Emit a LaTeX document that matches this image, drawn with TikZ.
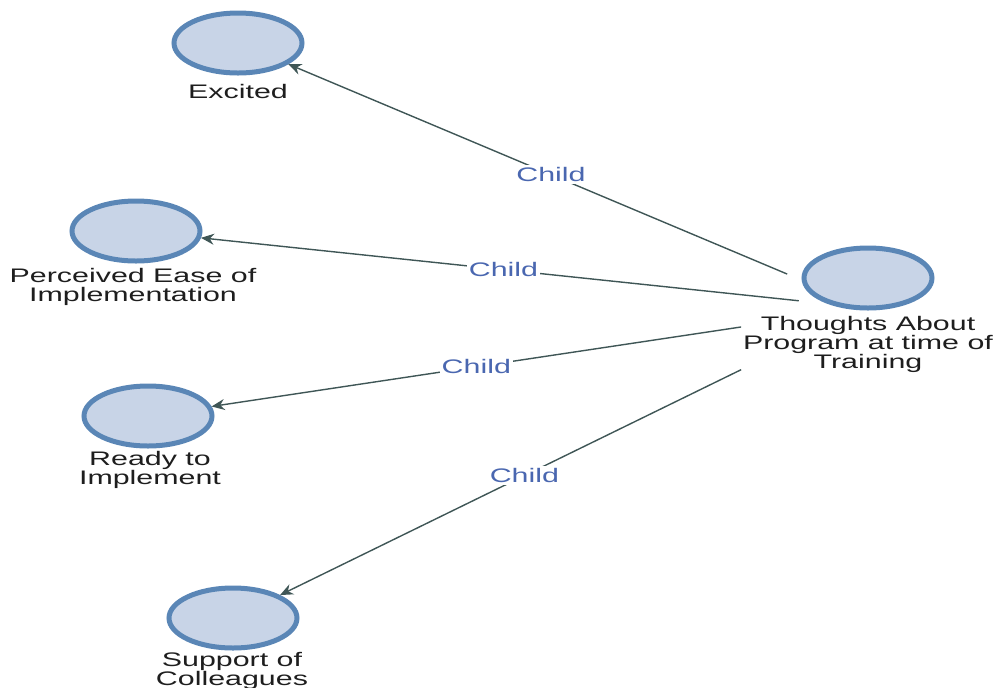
\documentclass[tikz,border=0pt]{standalone}
\usepackage{fontspec}
\setmainfont[FakeStretch=1.55]{Liberation Sans}
\usetikzlibrary{arrows.meta}
\usetikzlibrary{shapes.geometric}
\definecolor{dotfill}{HTML}{C8D4E7}
\definecolor{dotring}{HTML}{5A86B6}
\definecolor{linkgrey}{HTML}{3F5656}
\definecolor{childblue}{HTML}{4A67B0}
\definecolor{labelgrey}{HTML}{1E1E1E}

\begin{document}
\begin{tikzpicture}[x=0.5pt,y=-0.5pt,
		nodedot/.style={ellipse, draw=dotring, line width=2.5pt, fill=dotfill, minimum width=64pt, minimum height=30pt, inner sep=0pt},
		nodetext/.style={align=center, text=labelgrey, font=\fontsize{9.8}{9.5}\selectfont},
		childlink/.style={-{Stealth[length=6.5pt,width=5.5pt]}, color=linkgrey, line width=0.7pt},
		childtag/.style={fill=white, inner sep=1pt, text=childblue, font=\fontsize{9.8}{10}\selectfont}]
		\useasboundingbox (0,0) rectangle (998,687);

		\node[nodedot] (excited) at (238,43) {};
		\node[nodedot] (ease) at (136,231) {};
		\node[nodedot] (ready) at (148,416) {};
		\node[nodedot] (support) at (233,618) {};
		\node[nodedot] (thoughts) at (868,278) {};

		\node[nodetext] (excitedtxt) at (238,91) {Excited};
		\node[nodetext] (easetxt) at (133,287) {Perceived Ease of\\Implementation};
		\node[nodetext] (readytxt) at (150,470) {Ready to\\Implement};
		\node[nodetext] (supporttxt) at (232,671) {Support of\\Colleagues};
		\node[nodetext] (thoughtstxt) at (868,344) {Thoughts About\\Program at time of\\Training};

		% the edges leave the dot and its text together
		\node[minimum width=126.5pt, minimum height=63.5pt, inner sep=0pt] (thoughtsbox) at (868,308) {};

		\draw[childlink, shorten <=-25pt] (thoughtsbox) -- node[childtag, pos=0.42] {Child} (excited);
		\draw[childlink, shorten <=-29pt] (thoughtsbox) -- node[childtag, pos=0.44] {Child} (ease);
		\draw[childlink] (thoughtsbox) -- node[childtag, pos=0.50] {Child} (ready);
		\draw[childlink] (thoughtsbox) -- node[childtag, pos=0.47] {Child} (support);
	\end{tikzpicture}
\end{document}
